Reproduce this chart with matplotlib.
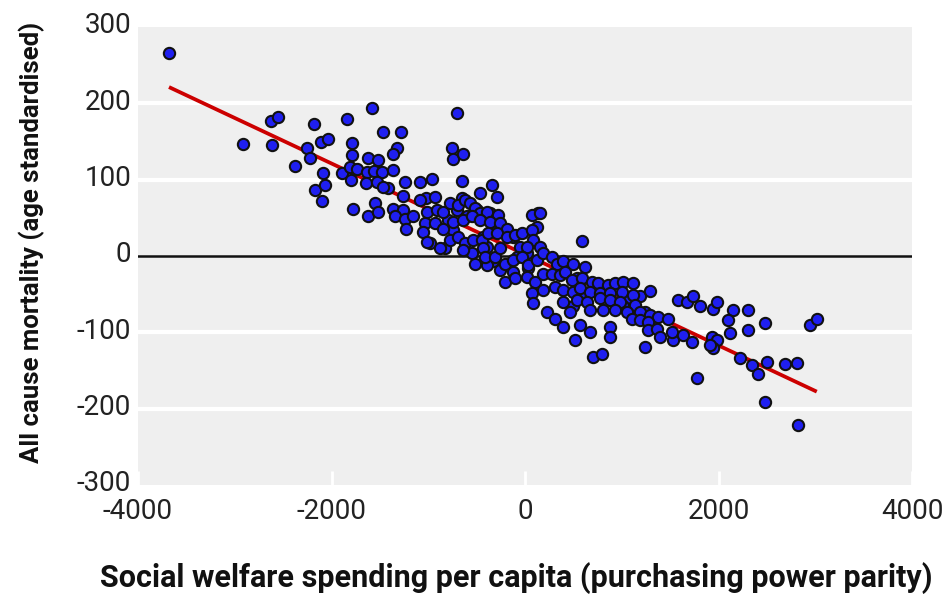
import matplotlib.pyplot as plt
import matplotlib.transforms as mtransforms
import numpy as np

# spending per capita (x) vs all cause mortality (y)
x_spend = [
    -3680, -2920, -2620, -2625, -2555, -2375, -2255, -2220, -2180, -2110,
    -2035, -2085, -2170, -2065, -2095, -1895, -1845, -1790, -1790, -1810,
    -1740, -1800, -1780, -1585, -1465, -1285, -1320, -1365, -1620, -1515,
    -705, -760, -740, -640, -1630, -1560, -1480, -1360, -1640, -1535,
    -1420, -1465, -1240, -1085, -965, -655, -465, -345, -295, -1260,
    -1550, -1620, -1515, -1360, -1260, -1345, -1240, -1155, -1230,
    -1020, -930, -1034, -930, -793, -706, -654, -499, -362, -603,
    -741, -827, -982, -551, -396, -431, -293, -121, -52, 17,
    138, 121, -86, 34, -121, -258, -327, -396,
    -1085, -1016, -913, -844, -775, -689, -620, -568, -517, -465,
    -396, -276, -844, -741, -638, -551, -465, -362, -258, -189,
    -1051, -1016, -879, -775, -689, -620, -638, -534, -448, -431,
    -379, -293, -189, -103, -34, 69, 86, 17, 155, -517,
    -413, -310, -258, -207, -121, -34, 34, 121, 189, 276,
    327, -207, -103, 17, 103, 189, 276, 69, 189, 86,
    224, 310, 69, 155, 586,
    362, 534, 1189, 310, 586, 827, 1051, 499, 1016, 1240, 1326,
    396, 499, 620, 413, 482, 586, 689, 758, 861, 930,
    1016, 1119, 396, 499, 568, 672, 775, 879, 999, 1119,
    1292, 396, 534, 638, 775, 879, 982, 1137, 465, 672,
    810, 930, 1051, 1189, 1292, 1378, 1481, 396, 568, 672,
    879, 1103, 1189, 1275, 1275, 1361, 1395, 1533, 1516, 1636,
    1723, 1930, 1981, 2119, 517, 879, 1240, 1946, 706, 793,
    1585, 1671, 1740, 1809, 1946, 1981, 2153, 2308, 2102, 2308,
    2222, 2343, 2412, 1774,
    2481, 2946, 3015, 1912, 2498, 2687, 2815, 2481, 2825,
]
y_mort = [
    266, 147, 145, 177, 182, 118, 141, 129, 173, 150,
    153, 109, 87, 93, 72, 109, 180, 148, 132, 117,
    114, 100, 62, 194, 163, 162, 142, 134, 128, 126,
    188, 141, 127, 134, 110, 112, 110, 113, 95, 97,
    89, 91, 97, 97, 101, 98, 83, 93, 77, 78,
    70, 52, 58, 62, 60, 52, 49, 52, 36,
    76, 77, 43, 43, 47, 60, 76, 60, 56, 52,
    34, 10, 17, 4, 12, 25, 38, 25, 12, 4,
    56, 38, -1, -16, -21, -18, -7, -12,
    73, 58, 60, 58, 69, 67, 73, 69, 63, 56,
    58, 54, 36, 45, 47, 52, 47, 45, 43, 36,
    32, 19, 10, 21, 25, 17, 8, 21, 21, 10,
    30, 30, 25, 28, 30, 34, 21, 12, 12, -10,
    -1, -1, 10, -10, -5, -1, -12, -5, 4, -1,
    -10, -34, -29, -27, -34, -23, -23, -49, -45, -62,
    -73, -82, 54, 56, 20,
    -25, -29, -53, -40, -49, -53, -55, -66, -66, -73, -90,
    -7, -10, -15, -21, -31, -29, -34, -36, -38, -36,
    -34, -36, -45, -47, -42, -47, -49, -49, -47, -51,
    -46, -60, -58, -60, -55, -58, -60, -64, -73, -71,
    -71, -71, -73, -73, -77, -80, -82, -93, -90, -99,
    -93, -82, -84, -86, -97, -95, -106, -110, -99, -104,
    -112, -106, -110, -101, -110, -106, -119, -121, -132, -128,
    -58, -60, -53, -66, -69, -60, -71, -71, -84, -97,
    -134, -143, -154, -160,
    -88, -90, -82, -117, -139, -142, -140, -191, -221,
]

# regression line as drawn in the chart
fit_intercept = 2.0
fit_slope = -0.0596

x_ticks = [-4000, -2000, 0, 2000, 4000]
y_ticks = [-300, -200, -100, 0, 100, 200, 300]

plt.rcParams['font.family'] = ['Roboto', 'DejaVu Sans']
plt.rcParams['axes.unicode_minus'] = False

fig = plt.figure(figsize=(9.48, 5.99), dpi=100)
ax = fig.add_axes([0.1456, 0.1903, 0.8165, 0.7646])
ax.set_facecolor('#efefef')

x = np.array(x_spend)
y = np.array(y_mort)

# white horizontal grid, black zero line
for g in y_ticks:
    if g == 0:
        ax.axhline(g, color='#111111', lw=1.8, zorder=1)
    elif abs(g) < 300:
        ax.axhline(g, color='white', lw=3, zorder=1)

line_x = np.array([x.min(), x.max()])
ax.plot(line_x, fit_intercept + fit_slope * line_x, color='#cc0000', lw=2.7,
        solid_capstyle='butt', zorder=2)

ax.scatter(x, y, s=66, c='#1f1ff0', edgecolors='#111111', linewidths=1.5,
           zorder=3)

ax.set_xlim(-4000, 4000)
ax.set_ylim(-300, 300)
ax.set_xticks(x_ticks)
ax.set_yticks(y_ticks)
ax.set_xticklabels([str(v) for v in x_ticks])
ax.set_yticklabels([str(v) for v in y_ticks])
for s in ax.spines.values():
    s.set_visible(False)
ax.tick_params(axis='x', direction='in', length=10, width=2, color='white',
               pad=9, labelsize=20, labelcolor='#222222')
ax.tick_params(axis='y', length=0, pad=5, labelsize=20, labelcolor='#222222')

# y labels sit a little above their gridlines
shift = mtransforms.ScaledTranslation(0, 3 / 72, fig.dpi_scale_trans)
for lbl in ax.get_yticklabels():
    lbl.set_transform(lbl.get_transform() + shift)

fig.text(0.545, 0.035, 'Social welfare spending per capita (purchasing power parity)',
         ha='center', va='center', fontsize=22, fontweight='bold', color='#111111')
fig.text(0.034, 0.596, 'All cause mortality (age standardised)', rotation=90,
         ha='center', va='center', fontsize=18.5, fontweight='bold', color='#111111')

fig.savefig('out.png', dpi=100)
